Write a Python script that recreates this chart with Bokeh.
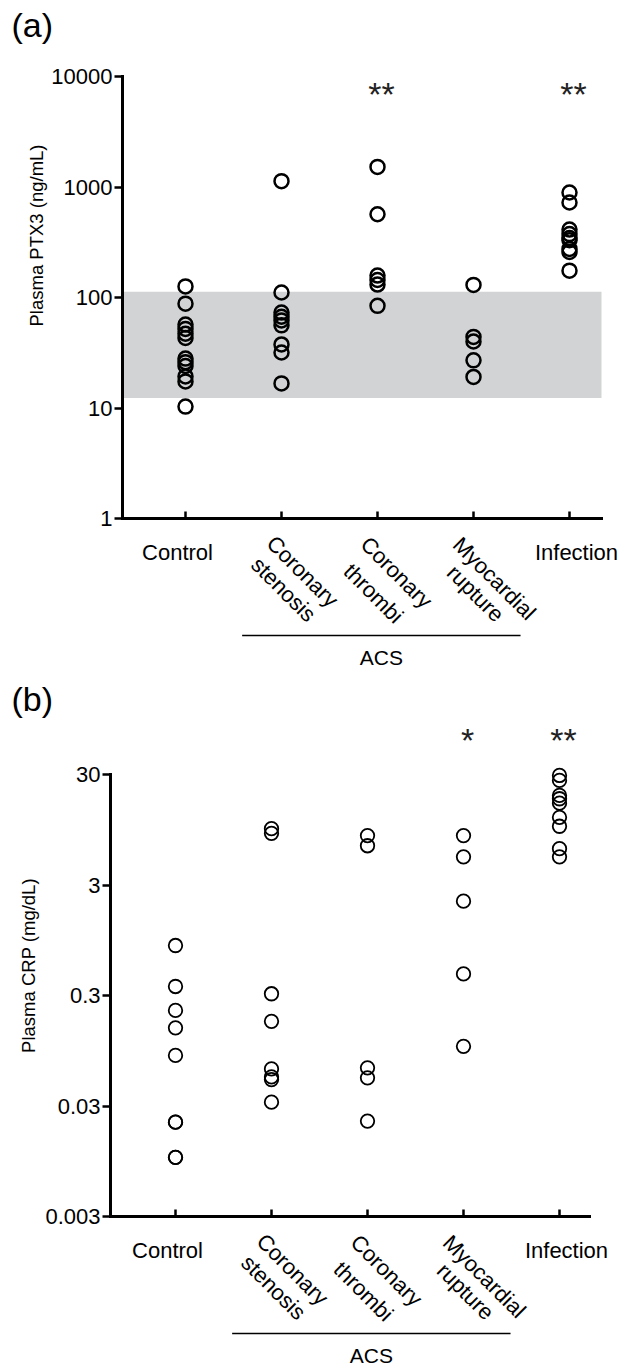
import math
from bokeh.plotting import figure
from bokeh.models import ColumnDataSource, Range1d, FixedTicker, Label, BoxAnnotation
from bokeh.layouts import column
from bokeh.embed import file_html
from bokeh.resources import INLINE

# ---------------- data ----------------
categories = ["Control", "Coronary stenosis", "Coronary thrombi", "Myocardial rupture", "Infection"]
label_lines = [["Control"], ["Coronary", "stenosis"], ["Coronary", "thrombi"],
               ["Myocardial", "rupture"], ["Infection"]]
group_label = "ACS"

ptx3_control = [126, 88, 57, 52, 47, 43, 28, 26, 24, 19.3, 17.4, 10.3]
ptx3_stenosis = [1130, 111, 73, 67, 62, 56, 37.6, 31.8, 16.7]
ptx3_thrombi = [1520, 567, 158, 144, 131, 84]
ptx3_rupture = [130, 44, 40, 27, 19.1]
ptx3_infection = [891, 724, 412, 375, 345, 330, 275, 258, 175]
ptx3_normal_range = [12.3, 113]
ptx3_sig = ["", "", "**", "", "**"]
ptx3_ticks = [1, 10, 100, 1000, 10000]
ptx3_tick_labels = ["1", "10", "100", "1000", "10000"]
ptx3_title = "Plasma PTX3 (ng/mL)"

crp_control = [0.85, 0.362, 0.22, 0.153, 0.086, 0.0214, 0.0214, 0.0103, 0.0103]
crp_stenosis = [9.7, 8.8, 0.311, 0.175, 0.065, 0.055, 0.052, 0.0325]
crp_thrombi = [8.4, 6.8, 0.0665, 0.054, 0.0219]
crp_rupture = [8.4, 5.4, 2.14, 0.47, 0.104]
crp_infection = [29.4, 26.5, 19.4, 18.1, 16.5, 12.3, 10.2, 6.4, 5.4]
crp_sig = ["", "", "", "*", "**"]
crp_ticks = [0.003, 0.03, 0.3, 3, 30]
crp_tick_labels = ["0.003", "0.03", "0.3", "3", "30"]
crp_title = "Plasma CRP (mg/dL)"

# ---------------- layout / style (pixels) ----------------
FONT = "Liberation Sans"
W = 620
UNIT = 96.0            # px between categories
PPD = 110.5            # px per decade on the log axes
# label offsets from the category tick (dx right, dy down, px)
single_off = {0: (-8, 34), 4: (7, 34)}
rot_line1 = {1: (21, 53), 2: (19, 54), 3: (21, 60)}
rot_line2 = {1: (2, 71), 2: (-4, 75), 3: (2, 75)}
acs_span = (0.59, 3.49)   # in category units
acs_line_dy = 117
acs_text_dy = 139


def make_panel(groups, ticks, tick_labels, ytitle, sig, tag, height,
               ctrl_px, yaxis_px, xend_px, top_px, sig_dy, title_pos,
               band=None, marker_size=13.5, marker_lw=2.3):
    y_lo, y_hi = ticks[0], ticks[-1]
    bottom_px = top_px + PPD * (math.log10(y_hi) - math.log10(y_lo))
    log_top = math.log10(y_hi) + top_px / PPD
    log_bot = math.log10(y_lo) - (height - bottom_px) / PPD
    x_start = -ctrl_px / UNIT
    x_end = (W - ctrl_px) / UNIT
    x_axis0 = (yaxis_px - ctrl_px) / UNIT
    x_axis1 = (xend_px - ctrl_px) / UNIT

    xs, ys = [], []
    for i, vals in enumerate(groups):
        xs += [i] * len(vals)
        ys += list(vals)
    src = ColumnDataSource(dict(x=xs, y=ys))

    p = figure(width=W, height=height, x_range=Range1d(x_start, x_end),
               y_range=Range1d(10 ** log_bot, 10 ** log_top), y_axis_type="log",
               output_backend="svg", toolbar_location=None,
               min_border_left=0, min_border_right=0, min_border_top=0, min_border_bottom=0)
    p.outline_line_color = None
    p.grid.visible = False
    p.background_fill_color = "white"
    p.border_fill_color = "white"

    if band is not None:
        p.add_layout(BoxAnnotation(left=x_axis0, right=x_axis1, bottom=band[0], top=band[1],
                                   fill_color="#d1d3d4", fill_alpha=1.0, line_color=None,
                                   level="underlay"))

    p.scatter(x="x", y="y", source=src, marker="circle", size=marker_size,
              fill_color=None, line_color="black", line_width=marker_lw)

    # y axis
    ya = p.yaxis[0]
    ya.fixed_location = x_axis0
    ya.bounds = (y_lo, y_hi)
    ya.ticker = FixedTicker(ticks=ticks, minor_ticks=[])
    ya.major_label_overrides = {t: l for t, l in zip(ticks, tick_labels)}
    ya.axis_line_width = 3
    ya.axis_line_cap = "square"
    ya.major_tick_line_width = 2.5
    ya.major_tick_in = 0
    ya.major_tick_out = 8
    ya.minor_tick_line_color = None
    ya.major_label_standoff = 2
    ya.major_label_text_font = FONT
    ya.major_label_text_font_size = "22px"
    ya.major_label_text_color = "black"

    # y title (placed like the original, above the axis centre)
    tx, ty = title_pos
    p.add_layout(Label(x=x_axis0, y=10 ** (log_top - ty / PPD), x_offset=tx - yaxis_px,
                       text=ytitle, angle=math.pi / 2, text_font=FONT,
                       text_font_size="18.5px", text_color="black",
                       text_align="center", text_baseline="middle"))

    # x axis
    xa = p.xaxis[0]
    xa.fixed_location = y_lo
    xa.bounds = (x_axis0, x_axis1)
    xa.ticker = FixedTicker(ticks=list(range(len(categories))), minor_ticks=[])
    xa.major_label_overrides = {i: "" for i in range(len(categories))}
    xa.axis_line_width = 3
    xa.axis_line_cap = "square"
    xa.major_tick_line_width = 2.5
    xa.major_tick_in = 7
    xa.major_tick_out = 0
    xa.minor_tick_line_color = None

    lab = dict(text_font=FONT, text_font_size="22px", text_color="black",
               text_align="center", text_baseline="middle")
    for i, lines in enumerate(label_lines):
        if len(lines) == 1:
            dx, dy = single_off[i]
            p.add_layout(Label(x=i, y=y_lo, x_offset=dx, y_offset=-dy, text=lines[0], **lab))
        else:
            for t, (dx, dy) in zip(lines, (rot_line1[i], rot_line2[i])):
                p.add_layout(Label(x=i, y=y_lo, x_offset=dx, y_offset=-dy, text=t,
                                   angle=-math.pi / 4, **lab))

    # ACS bracket line and label
    y_acs = 10 ** (math.log10(y_lo) - acs_line_dy / PPD)
    p.segment(x0=[acs_span[0]], y0=[y_acs], x1=[acs_span[1]], y1=[y_acs],
              line_width=1.6, line_color="black")
    p.add_layout(Label(x=(acs_span[0] + acs_span[1]) / 2, y=y_lo, y_offset=-acs_text_dy,
                       text=group_label, text_font=FONT, text_font_size="21px",
                       text_color="black", text_align="center", text_baseline="middle"))

    # significance marks
    for i, s in enumerate(sig):
        if s:
            p.add_layout(Label(x=i, y=y_hi, x_offset=4, y_offset=sig_dy, text=s,
                               text_font=FONT, text_font_size="34px", text_color="#222222",
                               text_align="center", text_baseline="middle"))

    # panel tag
    p.add_layout(Label(x=x_start, y=10 ** log_top, x_offset=11, y_offset=-5, text=tag,
                       text_font=FONT, text_font_size="34px", text_color="black",
                       text_align="left", text_baseline="top"))
    return p


pa = make_panel([ptx3_control, ptx3_stenosis, ptx3_thrombi, ptx3_rupture, ptx3_infection],
                ptx3_ticks, ptx3_tick_labels, ptx3_title, ptx3_sig, "(a)", 674,
                ctrl_px=185, yaxis_px=122, xend_px=601, top_px=76, sig_dy=-17,
                title_pos=(36, 235), band=ptx3_normal_range,
                marker_size=14, marker_lw=2.5)
pb = make_panel([crp_control, crp_stenosis, crp_thrombi, crp_rupture, crp_infection],
                crp_ticks, crp_tick_labels, crp_title, crp_sig, "(b)", 693,
                ctrl_px=175, yaxis_px=110, xend_px=589, top_px=774 - 674, sig_dy=35,
                title_pos=(28, 965 - 674), marker_size=13.5, marker_lw=1.8)

layout = column(pa, pb, spacing=0)
open("out.html", "w").write(file_html(layout, INLINE))
